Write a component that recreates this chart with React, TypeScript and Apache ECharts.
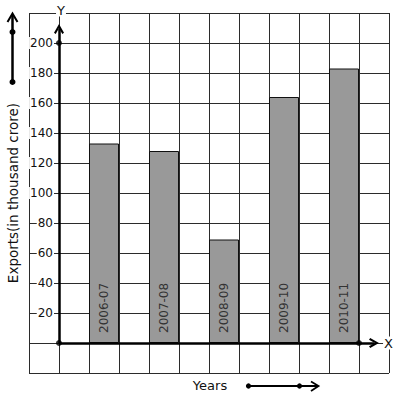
import React, { useEffect, useRef } from 'react';
import * as echarts from 'echarts';

// ---- data ----
const years: string[] = ['2006-07', '2007-08', '2008-09', '2009-10', '2010-11'];
const exportsValues: number[] = [133, 128, 69, 164, 183];
const yTickLabels: number[] = [20, 40, 60, 80, 100, 120, 140, 160, 180, 200];
const paperYMin = -20;
const paperYMax = 220;
const paperYStep = 20;
const paperXMin = 0;
const paperXMax = 12;
const axisDots: number[][] = [[1, 0], [1, 200], [11, 0]];
const yAxisEnd = 209.3;
const xAxisEnd = 11.5;

const FONT = 'DejaVu Sans';
const GRID_COLOR = '#2b2b2b';
const CHEVRON = 'path://M5,0 L10,8 L8.3,9.1 L5,3.8 L1.7,9.1 L0,8 Z';

export default function App() {
  const ref = useRef<HTMLDivElement>(null);

  useEffect(() => {
    if (!ref.current) return;
    const chart = echarts.init(ref.current, undefined, { renderer: 'svg' });

    const option: any = {
      animation: false,
      backgroundColor: '#fff',
      grid: [
        { left: 29, top: 13, width: 360, height: 360 },
        { left: 74, top: 13, width: 300, height: 360 },
      ],
      xAxis: [
        {
          gridIndex: 0,
          type: 'value',
          position: 'bottom',
          min: paperXMin,
          max: paperXMax,
          interval: 1,
          axisLine: { show: false },
          axisTick: { show: false },
          axisLabel: { show: false },
          splitLine: { show: true, lineStyle: { color: GRID_COLOR, width: 1 } },
        },
        {
          gridIndex: 1,
          type: 'category',
          data: years,
          show: false,
        },
      ],
      yAxis: [
        {
          gridIndex: 0,
          type: 'value',
          position: 'left',
          min: paperYMin,
          max: paperYMax,
          interval: paperYStep,
          axisLine: { show: false },
          axisTick: { show: false },
          axisLabel: { show: false },
          splitLine: { show: true, lineStyle: { color: GRID_COLOR, width: 1 } },
        },
        {
          gridIndex: 0,
          type: 'value',
          position: 'left',
          offset: 0,
          min: paperYMin,
          max: paperYMax,
          interval: paperYStep,
          z: 5,
          axisLine: { show: false, onZero: false },
          axisTick: { show: false },
          splitLine: { show: false },
          axisLabel: {
            show: true,
            inside: true,
            align: 'right',
            margin: 25,
            formatter: (v: number) => (yTickLabels.includes(v) ? String(v) : ''),
            backgroundColor: '#fff',
            padding: [0, 1],
            fontSize: 12,
            color: '#111',
            fontFamily: FONT,
          },
        },
        {
          gridIndex: 1,
          type: 'value',
          min: paperYMin,
          max: paperYMax,
          show: false,
        },
      ],
      series: [
        {
          type: 'bar',
          xAxisIndex: 1,
          yAxisIndex: 2,
          data: exportsValues,
          barWidth: 30,
          z: 3,
          itemStyle: { color: '#999999', borderColor: '#111', borderWidth: 1 },
          label: {
            show: true,
            position: 'insideBottom',
            rotate: 90,
            align: 'left',
            verticalAlign: 'middle',
            distance: 10,
            formatter: '{b}',
            fontSize: 12,
            color: '#333',
            fontFamily: FONT,
          },
        },
        {
          type: 'scatter',
          xAxisIndex: 0,
          yAxisIndex: 0,
          data: axisDots,
          symbolSize: 6,
          z: 6,
          itemStyle: { color: '#000' },
          markLine: {
            silent: true,
            symbol: ['none', CHEVRON],
            symbolSize: 10,
            lineStyle: { color: '#000', width: 2.5, type: 'solid' },
            label: { show: false },
            data: [
              [{ coord: [1, 0] }, { coord: [1, yAxisEnd] }],
              [{ coord: [1, 0] }, { coord: [xAxisEnd, 0] }],
            ],
          },
        },
      ],
      graphic: [
        {
          type: 'text',
          x: 61,
          y: 10,
          z: 10,
          style: {
            text: 'Y',
            fontSize: 13,
            fontFamily: FONT,
            fill: '#111',
            align: 'center',
            verticalAlign: 'middle',
            backgroundColor: '#fff',
            padding: [0, 1],
          },
        },
        {
          type: 'text',
          x: 388.5,
          y: 343,
          z: 10,
          style: {
            text: 'X',
            fontSize: 13,
            fontFamily: FONT,
            fill: '#111',
            align: 'center',
            verticalAlign: 'middle',
            backgroundColor: '#fff',
            padding: [0, 1],
          },
        },
        {
          type: 'text',
          x: 13,
          y: 193,
          rotation: Math.PI / 2,
          z: 10,
          style: {
            text: 'Exports(in thousand crore)',
            fontSize: 13.5,
            fontFamily: FONT,
            fill: '#111',
            align: 'center',
            verticalAlign: 'middle',
          },
        },
        {
          type: 'text',
          x: 210,
          y: 385.5,
          z: 10,
          style: {
            text: 'Years',
            fontSize: 13,
            fontFamily: FONT,
            fill: '#111',
            align: 'center',
            verticalAlign: 'middle',
          },
        },
        // left decorative arrow
        {
          type: 'line',
          z: 10,
          shape: { x1: 12.5, y1: 82, x2: 12.5, y2: 14 },
          style: { stroke: '#000', lineWidth: 2.5 },
        },
        {
          type: 'polyline',
          z: 10,
          shape: { points: [[7.5, 22], [12.5, 13.5], [17.5, 22]] },
          style: { stroke: '#000', lineWidth: 2, fill: null },
        },
        { type: 'circle', z: 11, shape: { cx: 12.5, cy: 32, r: 3 }, style: { fill: '#000' } },
        { type: 'circle', z: 11, shape: { cx: 12.5, cy: 82, r: 3 }, style: { fill: '#000' } },
        // bottom decorative arrow
        {
          type: 'line',
          z: 10,
          shape: { x1: 248, y1: 386, x2: 317, y2: 386 },
          style: { stroke: '#000', lineWidth: 2 },
        },
        {
          type: 'polyline',
          z: 10,
          shape: { points: [[311, 381.5], [318.5, 386], [311, 391]] },
          style: { stroke: '#000', lineWidth: 1.8, fill: null },
        },
        { type: 'circle', z: 11, shape: { cx: 248.5, cy: 386, r: 2.6 }, style: { fill: '#000' } },
        { type: 'circle', z: 11, shape: { cx: 299.5, cy: 386, r: 2.6 }, style: { fill: '#000' } },
      ],
    };

    chart.setOption(option);
    return () => {
      chart.dispose();
    };
  }, []);

  return (
    <div
      ref={ref}
      style={{ position: 'fixed', left: 0, top: 0, width: 397, height: 399, background: '#fff' }}
    />
  );
}
